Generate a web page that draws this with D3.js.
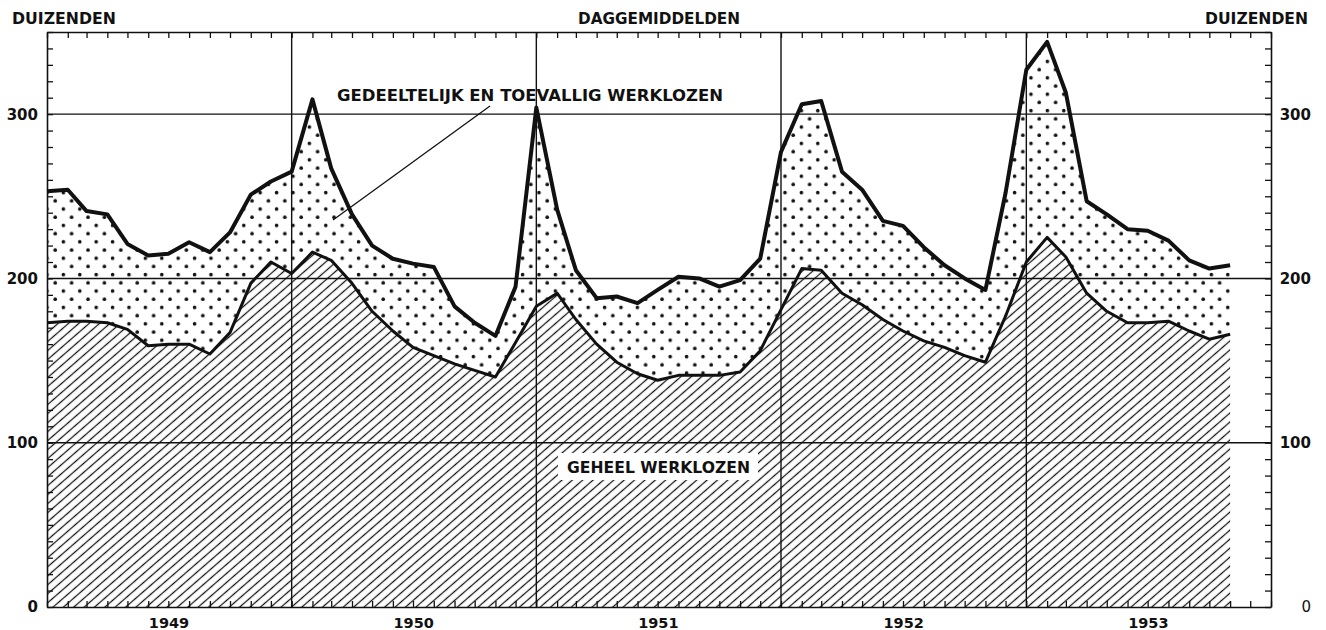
<!DOCTYPE html>
<html>
<head>
<meta charset="utf-8">
<script src="https://cdn.jsdelivr.net/npm/d3@7"></script>
<style>
  body { margin: 0; background: #fff; }
  svg { display: block; }
  text { font-family: "DejaVu Sans", sans-serif; fill: #111; }
</style>
</head>
<body>
<svg id="chart" width="1326" height="630"></svg>
<script>
// ---- DATA (thousands, daily averages, monthly) ----
const startMonth = new Date(1949, 0, 1);
const endMonth = new Date(1953, 11, 1); // exclusive
const months = d3.timeMonth.range(startMonth, endMonth); // Jan 1949 .. Nov 1953
// Total: gedeeltelijk en toevallig + geheel werklozen (upper curve)
const totaal = [253,254,241,239,221,214,215,222,216,228,251,259,
                265,309,267,239,220,212,209,207,183,173,165,195,
                304,242,205,188,189,185,193,201,200,195,199,212,
                277,306,308,265,254,235,232,219,208,200,193,252,
                327,344,313,247,239,230,229,223,211,206,208];
// Geheel werklozen (lower curve)
const geheel = [173,174,174,173,169,159,160,160,154,167,197,210,
                203,216,211,197,180,168,158,153,148,144,140,161,
                183,191,175,160,149,142,138,141,141,141,143,156,
                181,206,205,191,184,175,168,162,158,153,149,177,
                210,225,213,191,180,173,173,174,168,163,166];
const years = [1949, 1950, 1951, 1952, 1953];
const yLabels = [0, 100, 200, 300];
const gridValues = [100, 200, 300];

// ---- SCALES ----
const svg = d3.select("#chart");
const L = 47, R = 1271, T = 32, B = 607;
const x = d3.scaleTime().domain([new Date(1949,0,1), new Date(1954,0,1)]).range([L, R]);
const y = d3.scaleLinear().domain([0, 350]).range([B, T]);

const data = months.map((d, i) => ({ d, t: totaal[i], g: geheel[i] }));

// ---- PATTERNS ----
const defs = svg.append("defs");
const hatch = defs.append("pattern").attr("id", "hatch")
  .attr("patternUnits", "userSpaceOnUse")
  .attr("width", 6.8).attr("height", 6.8)
  .attr("patternTransform", "rotate(-41)");
hatch.append("line").attr("x1", -1).attr("x2", 7.8).attr("y1", 3.4).attr("y2", 3.4)
  .attr("stroke", "#111").attr("stroke-width", 1.25);

const dots = defs.append("pattern").attr("id", "dots")
  .attr("patternUnits", "userSpaceOnUse")
  .attr("x", 2).attr("y", 0)
  .attr("width", 16.4).attr("height", 16.4);
dots.append("circle").attr("cx", 4).attr("cy", 4).attr("r", 1.8).attr("fill", "#111");
dots.append("circle").attr("cx", 12.2).attr("cy", 12.2).attr("r", 1.8).attr("fill", "#111");

// ---- AREAS ----
const areaDots = d3.area().x(d => x(d.d)).y0(d => y(d.g)).y1(d => y(d.t));
const areaHatch = d3.area().x(d => x(d.d)).y0(y(0)).y1(d => y(d.g));

svg.append("path").datum(data).attr("d", areaDots).attr("fill", "url(#dots)");
svg.append("path").datum(data).attr("d", areaHatch).attr("fill", "url(#hatch)");

// ---- GRID ----
svg.append("g").selectAll("line").data(gridValues).join("line")
  .attr("x1", L).attr("x2", R).attr("y1", d => y(d)).attr("y2", d => y(d))
  .attr("stroke", "#111").attr("stroke-width", 1.4);
svg.append("g").selectAll("line").data(years.slice(1)).join("line")
  .attr("x1", d => x(new Date(d,0,1))).attr("x2", d => x(new Date(d,0,1)))
  .attr("y1", T).attr("y2", B)
  .attr("stroke", "#111").attr("stroke-width", 1.4);

// ---- CURVES ----
svg.append("path").datum(data)
  .attr("d", d3.line().x(d => x(d.d)).y(d => y(d.g)))
  .attr("fill", "none").attr("stroke", "#111").attr("stroke-width", 3).attr("stroke-linejoin", "round");
svg.append("path").datum(data)
  .attr("d", d3.line().x(d => x(d.d)).y(d => y(d.t)))
  .attr("fill", "none").attr("stroke", "#111").attr("stroke-width", 4).attr("stroke-linejoin", "round");

// ---- AXES / TICKS ----
function styleAxis(g) {
  g.select(".domain").attr("stroke", "#111").attr("stroke-width", 1.6);
  g.selectAll(".tick line").attr("stroke", "#111").attr("stroke-width", 1.3);
  g.selectAll(".tick text").remove();
}
const monthTicks = d3.timeMonth.every(1);
svg.append("g").attr("transform", `translate(0,${T})`)
  .call(d3.axisTop(x).ticks(monthTicks).tickSize(-6).tickSizeOuter(0).tickFormat(""))
  .call(styleAxis);
svg.append("g").attr("transform", `translate(0,${B})`)
  .call(d3.axisBottom(x).ticks(monthTicks).tickSize(-6).tickSizeOuter(0).tickFormat(""))
  .call(styleAxis);
svg.append("g").attr("transform", `translate(${L},0)`)
  .call(d3.axisLeft(y).tickValues(d3.range(0, 351, 10)).tickSize(-6).tickSizeOuter(0).tickFormat(""))
  .call(styleAxis);
svg.append("g").attr("transform", `translate(${R},0)`)
  .call(d3.axisRight(y).tickValues(d3.range(0, 351, 10)).tickSize(-6).tickSizeOuter(0).tickFormat(""))
  .call(styleAxis);

// ---- TICK LABELS ----
svg.append("g").selectAll("text").data(yLabels).join("text")
  .attr("x", L - 9).attr("y", d => y(d)).attr("dy", "0.36em")
  .attr("text-anchor", "end").attr("font-size", 15).attr("font-weight", "bold")
  .text(d => d);
svg.append("g").selectAll("text").data(yLabels).join("text")
  .attr("x", R + 40).attr("y", d => y(d)).attr("dy", "0.36em")
  .attr("text-anchor", "end").attr("font-size", 15).attr("font-weight", d => d === 0 ? "normal" : "bold")
  .text(d => d);
svg.append("g").selectAll("text").data(years).join("text")
  .attr("x", d => x(new Date(d, 6, 2))).attr("y", 628)
  .attr("text-anchor", "middle").attr("font-size", 14.5).attr("font-weight", "bold")
  .text(d => d);

// ---- TITLES & ANNOTATIONS ----
function label(txt, x0, base, len, size) {
  svg.append("text").attr("x", x0).attr("y", base)
    .attr("font-size", size).attr("font-weight", "bold")
    .attr("textLength", len).attr("lengthAdjust", "spacingAndGlyphs")
    .text(txt);
}
label("DUIZENDEN", 12, 24, 104, 15);
label("DAGGEMIDDELDEN", 578, 24, 162, 15);
label("DUIZENDEN", 1205, 24, 103, 15);
label("GEDEELTELIJK EN TOEVALLIG WERKLOZEN", 337, 101, 386, 15);

svg.append("line").attr("x1", 490).attr("y1", 106).attr("x2", 333).attr("y2", 220)
  .attr("stroke", "#111").attr("stroke-width", 1.3);

svg.append("rect").attr("x", 558).attr("y", 453).attr("width", 200).attr("height", 27).attr("fill", "#fff");
label("GEHEEL WERKLOZEN", 567, 473, 183, 15);
</script>
</body>
</html>
